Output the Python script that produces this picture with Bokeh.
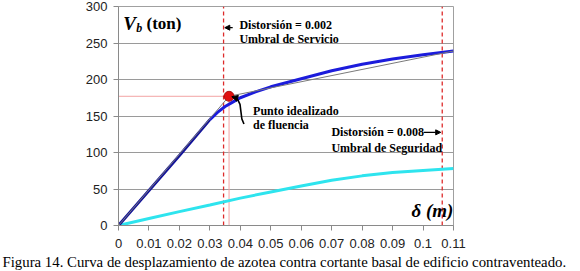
from bokeh.plotting import figure
from bokeh.models import FixedTicker, Label, Arrow, NormalHead, Range1d, Title
from bokeh.embed import file_html
from bokeh.resources import INLINE

# ---- data ----
disp_blue = [0, 0.01, 0.02, 0.03, 0.0325, 0.035, 0.0375, 0.04, 0.045, 0.05, 0.06, 0.07, 0.08, 0.09, 0.10, 0.11]
shear_blue = [0, 48, 96, 145, 155, 163, 169, 175, 183, 190, 201, 212, 221, 228, 234, 239]
disp_cyan = [0, 0.01, 0.02, 0.03, 0.04, 0.05, 0.06, 0.07, 0.08, 0.09, 0.10, 0.11]
shear_cyan = [0, 9.5, 19, 28, 37.5, 46, 54, 62, 68, 72.5, 75.5, 78]
bilin_x = [0, 0.0363, 0.11]
bilin_y = [0, 177, 239]
yield_x = [0.0363]
yield_y = [177]
drift_service = 0.0345
drift_safety = 0.1063
x_ticks = [0, 0.01, 0.02, 0.03, 0.04, 0.05, 0.06, 0.07, 0.08, 0.09, 0.10, 0.11]
x_tick_labels = ["0", "0.01", "0.02", "0.03", "0.04", "0.05", "0.06", "0.07", "0.08", "0.09", "0.1", "0.11"]
y_ticks = [0, 50, 100, 150, 200, 250, 300]
caption = "Figura 14. Curva de desplazamiento de azotea contra cortante basal de edificio contraventeado."

p = figure(width=580, height=271, output_backend="svg", toolbar_location=None,
           x_range=Range1d(0, 0.11), y_range=Range1d(0, 300),
           min_border_left=118, min_border_right=127, min_border_top=6, min_border_bottom=0)
p.background_fill_color = "white"
p.border_fill_color = "white"
p.outline_line_color = "#a0a0a0"
p.outline_line_width = 1

p.xgrid.grid_line_color = None
p.ygrid.grid_line_color = "#9a9a9a"
p.ygrid.grid_line_width = 1

for ax in (p.xaxis[0], p.yaxis[0]):
    ax.axis_line_color = "#8a8a8a"
    ax.major_tick_line_color = "#8a8a8a"
    ax.minor_tick_line_color = None
    ax.major_tick_out = 5
    ax.major_tick_in = 0
    ax.major_label_text_font = "Liberation Sans"
    ax.major_label_text_font_size = "13px"
    ax.major_label_text_color = "#222222"

p.xaxis[0].ticker = FixedTicker(ticks=x_ticks)
p.xaxis[0].major_label_overrides = {t: l for t, l in zip(x_ticks, x_tick_labels)}
p.xaxis[0].major_label_standoff = 8
p.yaxis[0].ticker = FixedTicker(ticks=y_ticks)
p.yaxis[0].major_label_standoff = 6

# caption below the chart
p.add_layout(Title(text=caption, align="left", offset=-116, standoff=3,
                   text_font="Liberation Serif", text_font_size="14.8px",
                   text_font_style="normal", text_color="black"), "below")

# thin pink reference lines to yield point
p.line([0, yield_x[0]], [yield_y[0], yield_y[0]], line_color="#f2a4a4", line_width=1)
p.line([yield_x[0], yield_x[0]], [0, yield_y[0]], line_color="#f2a4a4", line_width=1)

# drift threshold lines
p.line([drift_service, drift_service], [0, 300], line_color="#dd2a2a", line_width=1.3, line_dash="4 3")
p.line([drift_safety, drift_safety], [0, 300], line_color="#dd2a2a", line_width=1.3, line_dash="4 3")

# curves
p.line(disp_cyan, shear_cyan, line_color="#2ee4ee", line_width=3)
p.line(disp_blue[:4], shear_blue[:4], line_color="#14149a", line_width=3)
p.line(disp_blue[3:], shear_blue[3:], line_color="#1c1cdc", line_width=3)
p.line(bilin_x, bilin_y, line_color="#7a7a7a", line_width=1)

p.scatter(yield_x, yield_y, size=10, fill_color="#e01010", line_color="#9a0000", line_width=0.8)

serif = "Liberation Serif"

def lab(x, y, t, size, style="bold", color="black", align="left", base="middle"):
    p.add_layout(Label(x=x, y=y, text=t, text_font=serif, text_font_size=size,
                       text_font_style=style, text_color=color, text_align=align,
                       text_baseline=base))

lab(0.0016, 277, "V", "19px", "bold italic")
lab(0.0058, 270, "b", "12px", "bold italic")
lab(0.0092, 277, "(ton)", "17px", "bold")

lab(0.0397, 275, "Distorsión = 0.002", "12px")
lab(0.0397, 256, "Umbral de Servicio", "12px")
p.add_layout(Arrow(x_start=0.0375, y_start=271, x_end=0.0349, y_end=271,
                   line_color="black", line_width=1.2,
                   end=NormalHead(size=5, fill_color="black", line_color="black")))

lab(0.0442, 157.5, "Punto idealizado", "12px")
lab(0.0442, 137, "de fluencia", "12px")
# curved pointer to yield point
p.line([0.0412, 0.0405, 0.0402, 0.0399, 0.0392, 0.0380],
       [139, 146, 156, 166, 172, 175.5], line_color="black", line_width=1.6)
p.add_layout(Arrow(x_start=0.0384, y_start=175, x_end=0.0372, y_end=176.5,
                   line_color="black", line_width=1.2,
                   end=NormalHead(size=6, fill_color="black", line_color="black")))

lab(0.0699, 127.6, "Distorsión = 0.008", "12px")
lab(0.0699, 105.9, "Umbral de Seguridad", "12px")
p.add_layout(Arrow(x_start=0.1002, y_start=127.6, x_end=0.1058, y_end=127.6,
                   line_color="black", line_width=1.2,
                   end=NormalHead(size=5, fill_color="black", line_color="black")))

lab(0.0962, 20.4, "δ (m)", "19px", "bold italic")

open("out.html", "w").write(file_html(p, INLINE))
